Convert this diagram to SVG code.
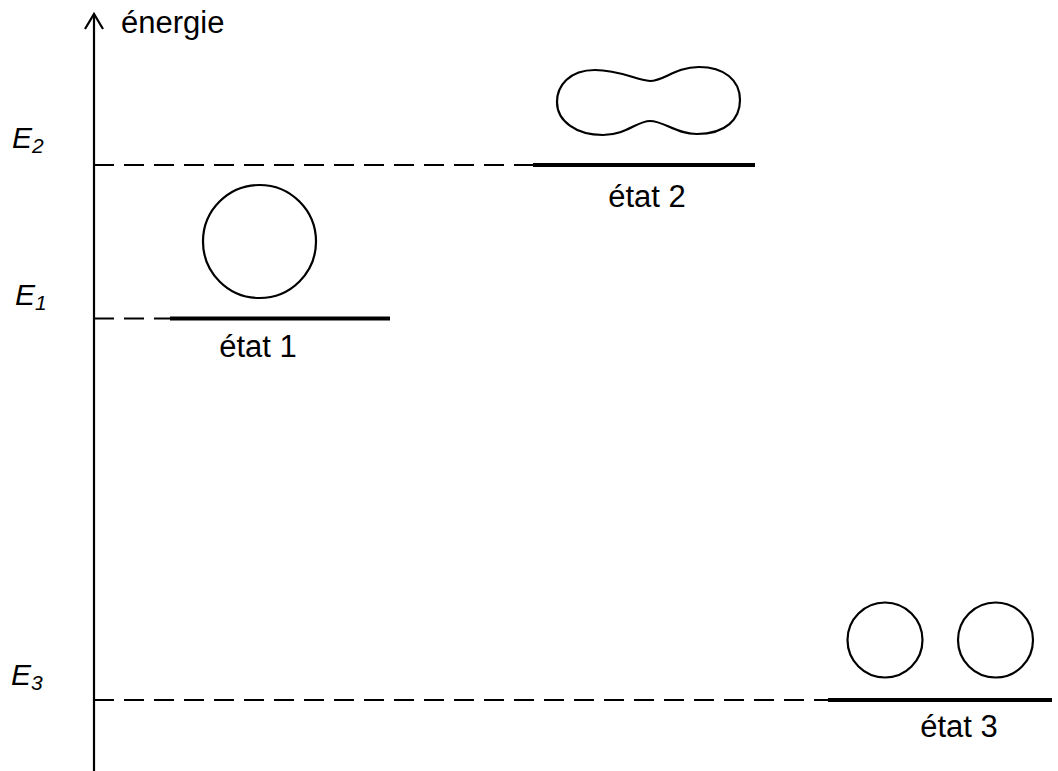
<svg xmlns="http://www.w3.org/2000/svg" width="1058" height="771" viewBox="0 0 1058 771">
  <style>
    .axis { stroke: #000; stroke-width: 2.2; fill: none; }
    .dash { stroke: #000; stroke-width: 2; stroke-dasharray: 20 10; fill: none; }
    .level { stroke: #000; stroke-width: 4; fill: none; }
    .shape { stroke: #000; stroke-width: 2.2; fill: none; }
    .lbl { font-family: "Liberation Sans", Arial, sans-serif; font-size: 31px; fill: #000; }
    .en { font-family: "Liberation Sans", Arial, sans-serif; font-size: 30px; font-style: italic; fill: #000; }
    .sub { font-size: 21px; }
  </style>
  <rect width="1058" height="771" fill="#fff"/>

  <!-- energy axis -->
  <g id="axis">
    <line class="axis" x1="94" y1="771" x2="94" y2="14"/>
    <polyline class="axis" points="85,29 94,14 103,29"/>
    <text class="lbl" x="121" y="33">énergie</text>
  </g>

  <!-- dashed guides from the axis to each level -->
  <g id="connectors">
    <line class="dash" x1="94" y1="165" x2="533" y2="165"/>
    <line class="dash" x1="94" y1="318.5" x2="170" y2="318.5"/>
    <line class="dash" x1="94" y1="700" x2="828" y2="700"/>
  </g>

  <!-- energy labels -->
  <g id="labels">
    <text class="en" x="12" y="148">E<tspan class="sub" dy="5">2</tspan></text>
    <text class="en" x="15" y="305">E<tspan class="sub" dy="5">1</tspan></text>
    <text class="en" x="11" y="685">E<tspan class="sub" dy="5">3</tspan></text>
  </g>

  <!-- state 1: single sphere -->
  <g id="state1">
    <line class="level" x1="170" y1="318.5" x2="390" y2="318.5"/>
    <circle class="shape" cx="259.5" cy="241.5" r="56.5"/>
    <text class="lbl" x="258" y="357" text-anchor="middle">état 1</text>
  </g>

  <!-- state 2: merged lobes -->
  <g id="state2">
    <line class="level" x1="533" y1="165" x2="755" y2="165"/>
    <path class="shape" d="M650 81 C636 80 620 70 595 70 C569 70 557 86 557 102 C557 121 576 135 603 135 C626 135 637 121 650 121 C664 121 676 134 697 134 C726 134 740 119 740 100 C740 80 724 67 699 67 C675 67 664 81 650 81 Z"/>
    <text class="lbl" x="647" y="207" text-anchor="middle">état 2</text>
  </g>

  <!-- state 3: two separate spheres -->
  <g id="state3">
    <line class="level" x1="828" y1="700" x2="1052" y2="700"/>
    <circle class="shape" cx="885" cy="640" r="37.5"/>
    <circle class="shape" cx="995.5" cy="640" r="37.5"/>
    <text class="lbl" x="959" y="737" text-anchor="middle">état 3</text>
  </g>
</svg>
